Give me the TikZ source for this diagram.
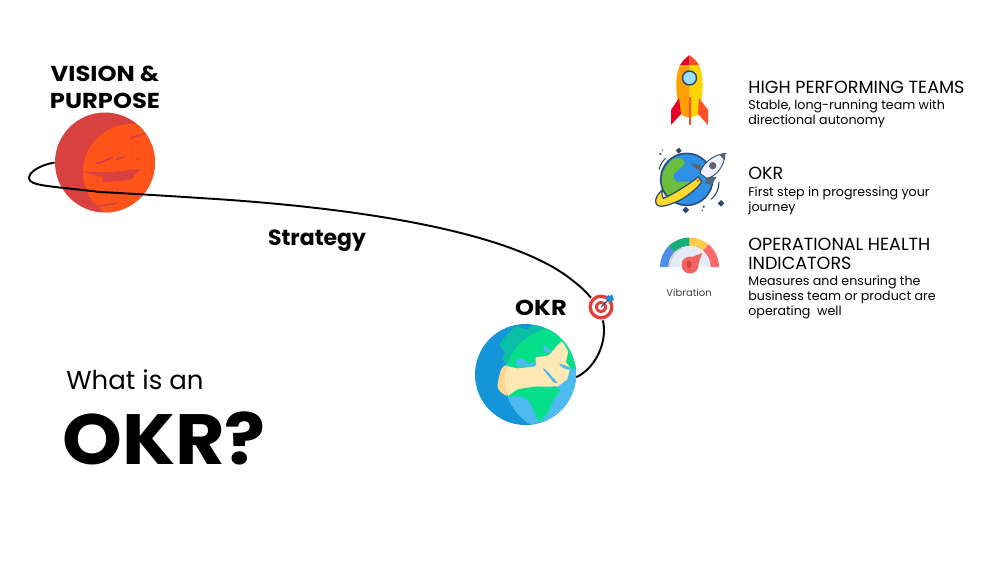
\documentclass[tikz,border=0pt]{standalone}
\usepackage{fontspec}
\usepackage{xcolor}
\usepackage{tikz}
\setmainfont{Poppins}
\newfontfamily\widefont[FakeStretch=1.12]{Poppins}
\newfontfamily\bigfont[FakeStretch=1.07]{Poppins}
\definecolor{marsdark}{HTML}{D94141}
\definecolor{marslight}{HTML}{FF5419}
\definecolor{oceandark}{HTML}{1494D9}
\definecolor{oceanlight}{HTML}{4DBBF0}
\definecolor{landteal}{HTML}{0BBFA5}
\definecolor{landgreen}{HTML}{05DF8A}
\definecolor{landsand}{HTML}{FFE8B4}
\definecolor{landshade}{HTML}{FFD68E}
\definecolor{navyline}{HTML}{2B4A6F}
\definecolor{rocketred}{HTML}{E50027}
\definecolor{rocketflame}{HTML}{FF5023}
\definecolor{rocketorange}{HTML}{FF9F00}
\definecolor{rocketyellow}{HTML}{FFD400}
\definecolor{targetred}{HTML}{E2403C}
\definecolor{globeblue}{HTML}{2D8FE6}
\definecolor{globegreen}{HTML}{6BBF3C}
\definecolor{ringyellow}{HTML}{FFDA2D}
\definecolor{fingrey}{HTML}{5A6472}
\definecolor{gaugeblue}{HTML}{4F8FE6}
\definecolor{gaugegreen}{HTML}{18AC78}
\definecolor{gaugeyellow}{HTML}{FFC94D}
\definecolor{gaugered}{HTML}{FF6B6B}
\definecolor{gaugeface}{HTML}{E6ECF7}
\definecolor{needlered}{HTML}{F0625D}
\tikzset{
	title/.style={font=\fontsize{12.3}{14}\selectfont\widefont\bfseries, text=black, inner sep=0pt},
	heading/.style={font=\fontsize{10}{11}\selectfont, text=black, anchor=base west, inner sep=0pt},
	detail/.style={font=\fontsize{7.2}{8}\selectfont, text=black, anchor=base west, inner sep=0pt},
	planet/.style={circle, inner sep=0pt, minimum size=#1},
	marsmark/.style={marsdark, line width=1.1pt, line cap=round}
}
\newcommand{\gaugeband}[3]{\fill[#3] ([shift={(-#1:29.5)}]689.5,267) arc (-#1:-#2:29.5) -- ([shift={(-#2:21)}]689.5,267) arc (-#2:-#1:21) -- cycle;}

\begin{document}
\begin{tikzpicture}[x=0.02cm, y=-0.02cm]
	\useasboundingbox (0,0) rectangle (1000,562);

	\node[planet=2cm, fill=marsdark] (mars) at (105,162.5) {};
	
	\begin{scope}
		\clip (105,162.5) circle (50);
		\fill[marslight] (131,172) circle (48);
		\fill[marsdark] (79,136) ellipse (3.5 and 4);
		\fill[marsdark] (91,129) circle (1.5);
		\fill[marsdark] (69,169) circle (3);
		\fill[marsdark] (82,172) circle (1.5);
		\fill[marsdark] (97,181) circle (1.2);
		\fill[marsdark] (132,152) circle (1.2);
		\fill[marsdark] (138,159) circle (1.2);
		\fill[marsdark] (118,189) circle (1.2);
		\draw[marsmark] (57,147) .. controls (62,151) and (67,152) .. (72,155);
		\draw[marsmark] (131,138) -- (146,133);
		\draw[marsmark] (96,163) .. controls (102,164) and (106,159) .. (112,158);
		\draw[marsmark] (117,159) -- (124,157);
		\draw[marsmark] (90,210) .. controls (98,204) and (106,206) .. (116,203);
		\fill[marsdark] plot[smooth cycle, tension=.4] coordinates {(84,172) (112,172) (140,169) (134,175) (132,179) (118,181) (103,182) (102,177)};
	\end{scope}
	
	\node[planet=2.02cm, fill=oceandark] (earth) at (525.5,374.5) {};
	
	\begin{scope}[shift={(460,280)}, scale=1/3]
		\clip (197,283) circle (151);
		\fill[landteal] plot[smooth cycle, tension=.5] coordinates {(118,195) (145,160) (170,140) (200,148) (225,135) (300,170) (240,230) (150,258) (128,235) (135,215)};
		\fill[landshade] plot[smooth cycle, tension=.5] coordinates {(113,320) (125,265) (145,255) (170,265) (170,345) (135,345)};
		\begin{scope}
			\clip (290,300) circle (155);
			\fill[oceanlight] (290,300) circle (155);
			\fill[landgreen] (140,280) -- (140,130) -- (300,130) -- (360,230) -- (350,275) -- cycle;
			\fill[landsand] plot[smooth cycle, tension=.3] coordinates {(135,330) (135,260) (170,265) (200,262) (226,258) (228,232) (265,226) (305,185) (330,228) (322,250) (345,285) (300,318) (220,320) (170,335) (150,350)};
			\fill[oceanlight] plot[smooth cycle, tension=.5] coordinates {(170,240) (188,236) (205,250) (228,246) (224,258) (190,260) (172,258)};
			\fill[oceanlight] plot[smooth cycle, tension=.5] coordinates {(250,195) (265,205) (275,218) (255,215)};
			\fill[oceanlight] plot[smooth cycle, tension=.5] coordinates {(298,252) (325,260) (335,270) (312,265)};
			\fill[oceanlight] plot[smooth cycle, tension=.3] coordinates {(248,266) (258,270) (292,308) (280,306)};
			\fill[oceanlight] (330,268) -- (360,265) -- (360,340) -- (296,318) -- (322,298) -- cycle;
			\fill[landgreen] (325,215) -- (352,262) -- (335,268) -- (318,245) -- cycle;
		\end{scope}
		\fill[landgreen] plot[smooth cycle, tension=.4] coordinates {(145,350) (175,328) (230,320) (265,322) (285,320) (300,332) (280,360) (265,395) (238,425) (222,395) (208,365) (185,350)};
	\end{scope}
	
	\draw[black, line width=1.1pt] (mars.west) .. controls (40,165) and (29,172) .. (29,178) .. controls (29,186) and (50,186) .. (100,192) .. controls (120,193) and (170,196) .. (200,198) .. controls (350,207) and (510,230) .. (572,280) .. controls (592,295) and (604,312) .. (604,330) .. controls (604,350) and (592,370) .. (earth.-3);
	
	% target on the orbit
	\fill[white] (601,307) circle (13.5);
	\fill[targetred] (601,307) circle (12.5);
	\fill[white] (601,307) circle (9);
	\fill[targetred] (601,307) circle (6);
	\fill[white] (601,307) circle (3);
	\draw[navyline, line width=.6pt] (601,307) -- (610,298);
	\fill[oceandark] (606,298) -- (608,295) -- (610,296) -- (612,294) -- (614,300) -- (610,302) -- cycle;
	
	% rocket
	\fill[rocketred] (680,65) .. controls (683,60) and (687,57) .. (689.5,55) -- (689.5,65) -- cycle;
	\fill[rocketflame] (689.5,55) .. controls (692,57) and (696,60) .. (699,65) -- (689.5,65) -- cycle;
	\fill[rocketorange] (680,65) .. controls (675,76) and (675,92) .. (680,110) .. controls (681,115) and (683,117) .. (686,117) -- (689.5,117) -- (689.5,65) -- cycle;
	\fill[rocketyellow] (699,65) .. controls (704,76) and (704,92) .. (699,110) .. controls (698,115) and (696,117) .. (693,117) -- (689.5,117) -- (689.5,65) -- cycle;
	\fill[rocketred] (679,98) -- (671,110) -- (671,125) -- (681,114) -- cycle;
	\fill[rocketflame] (699,98) -- (708,110) -- (708,125) -- (698,114) -- cycle;
	\fill[rocketflame] (688.5,97) rectangle (690.5,125);
	\draw[navyline, line width=.8pt, fill=cyan!40] (689.5,78) circle (7);
	
	% globe with small rocket
	\begin{scope}[shift={(645,140)}, scale=1/3]
		\fill[globeblue] (125,118) circle (78);
		\begin{scope}
			\clip (125,118) circle (78);
			\fill[globegreen] plot[smooth cycle, tension=.5] coordinates {(50,135) (55,95) (80,60) (105,55) (120,70) (100,90) (85,105) (95,125) (130,125) (150,145) (125,160) (100,150) (85,170) (60,160)};
		\end{scope}
		\draw[navyline, line width=.9pt] (125,118) circle (78);
		\fill[ringyellow, draw=navyline, line width=.7pt] (160,110) .. controls (130,135) and (80,165) .. (55,175) .. controls (50,165) and (50,155) .. (52,150) .. controls (38,162) and (28,178) .. (33,190) .. controls (40,208) and (75,195) .. (110,178) .. controls (135,162) and (160,142) .. (170,125) -- cycle;
		\fill[targetred] (158,122) circle (3.5);
		\fill[fingrey] (135,70) -- (165,75) -- (172,100) -- cycle;
		\fill[fingrey] (215,110) -- (200,135) -- (180,130) -- (185,115) -- cycle;
		\fill[blue!6!white, draw=navyline, line width=.5pt] (240,40) .. controls (200,45) and (170,75) .. (165,100) -- (185,115) .. controls (215,110) and (240,75) .. cycle;
		\fill[fingrey] (240,40) -- (222,43) -- (238,60) -- cycle;
		\fill[fingrey] (203,77) circle (11);
		\foreach \sx/\sy/\sr in {101/32/9, 228/190/10, 122/210/10}
			\fill[navyline] (\sx,\sy-\sr) -- (\sx+\sr,\sy) -- (\sx,\sy+\sr) -- (\sx-\sr,\sy) -- cycle;
		\fill[navyline] (46,42) circle (3.5);
		\fill[navyline] (52,30) circle (2.5);
		\fill[navyline] (176,200) circle (3.5);
		\fill[navyline] (172,211) circle (2.5);
		\draw[navyline, line width=.6pt] (42,88) .. controls (45,75) and (55,60) .. (62,55);
		\draw[navyline, line width=.6pt] (222,125) .. controls (222,145) and (215,165) .. (198,178);
	\end{scope}
	
	% gauge
	\gaugeband{180}{135}{gaugeblue}
	\gaugeband{135}{90}{gaugegreen}
	\gaugeband{90}{50}{gaugeyellow}
	\gaugeband{50}{0}{gaugered}
	\fill[gaugeface] (668.5,267) arc (-180:0:21) -- cycle;
	\draw[black!18, line width=.8pt] (669.5,267) arc (-180:-110:20);
	\fill[needlered] (702,253) -- (696,271) -- (682,261) -- cycle;
	\fill[needlered] (690,265) circle (8.5);
	\fill[marsdark] (689,264.5) ellipse (2.5 and 3.5);
	
	\node[title] (vision) at (105,74) {VISION \&};
	
	\node[title] (purpose) at (105,101) {PURPOSE};
	
	\node[font=\fontsize{12.5}{14}\selectfont\bfseries, inner sep=0pt] (strategy) at (317,241) {Strategy};
	
	\node[title] (okrlabel) at (541,308) {OKR};
	
	\node[anchor=base west, inner sep=0pt, font=\fontsize{14.8}{18}\selectfont] (whatis) at (66,389) {What is an};
	
	\node[anchor=base west, inner sep=0pt, font=\fontsize{40.5}{42}\selectfont\bigfont\bfseries] (okrbig) at (62,464) {OKR?};
	
	\node[font=\fontsize{5.7}{6}\selectfont, text=black!75, inner sep=0pt] (vibration) at (689,293) {Vibration};
	
	\node[heading] (teams) at (748,93) {HIGH PERFORMING TEAMS};
	
	\node[detail] (teamsa) at (748,109) {Stable, long-running team with};
	
	\node[detail] (teamsb) at (748,124) {directional autonomy};
	
	\node[heading] (okrhead) at (748,179) {OKR};
	
	\node[detail] (okra) at (748,196) {First step in progressing your};
	
	\node[detail] (okrb) at (748,211) {journey};
	
	\node[heading] (health) at (748,250) {OPERATIONAL HEALTH};
	
	\node[heading] (indicators) at (748,269) {INDICATORS};
	
	\node[detail] (healtha) at (748,285) {Measures and ensuring the};
	
	\node[detail] (healthb) at (748,300) {business team or product are};
	
	\node[detail] (healthc) at (748,315) {operating\ \ well};
\end{tikzpicture}
\end{document}
